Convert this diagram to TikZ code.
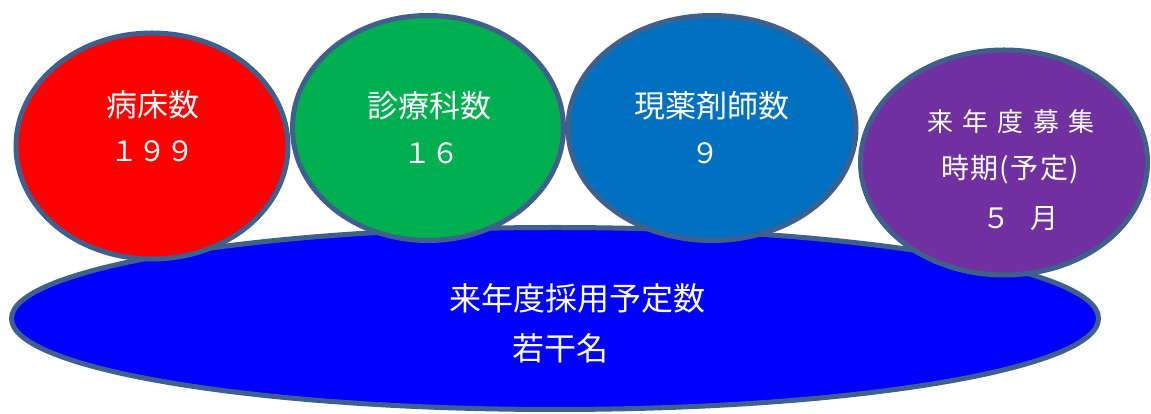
\documentclass[tikz,border=0pt]{standalone}
\usepackage{fontspec}
\newfontfamily\jpfont{Noto Sans CJK JP}
\definecolor{rim}{RGB}{63,95,140}
\definecolor{hireblue}{RGB}{0,0,255}
\definecolor{bedred}{RGB}{255,0,0}
\definecolor{deptgreen}{RGB}{0,176,80}
\definecolor{pharmblue}{RGB}{0,112,192}
\definecolor{recpurple}{RGB}{112,48,160}
\usepackage{tikz}
\usetikzlibrary{shapes.geometric}

\begin{document}
\begin{tikzpicture}[x=1pt,y=1pt]
      \newcommand{\jpsize}[1]{\jpfont\fontsize{#1}{#1}\selectfont}
      \tikzstyle{blob} = [ellipse,draw=rim,line width=5pt,inner sep=0pt]
      \tikzstyle{word} = [text=white,inner sep=0pt,font=\jpsize{31}]
      \tikzstyle{digit} = [word,font=\jpsize{28}]
      \tikzstyle{spaced} = [word,font=\jpsize{26}\addfontfeature{LetterSpace=35}]
      \useasboundingbox (0,0) rectangle (1151,414);
      \node[blob,fill=hireblue,minimum width=1087pt,minimum height=182pt] (hire) at (555,95.5) {};
      \node[blob,fill=bedred,minimum width=272pt,minimum height=226pt] (beds) at (152,268) {};
      \node[blob,fill=deptgreen,minimum width=271pt,minimum height=225pt] (depts) at (428,286) {};
      \node[blob,fill=pharmblue,minimum width=288pt,minimum height=225pt] (pharm) at (712,286) {};
      \node[blob,fill=recpurple,minimum width=287pt,minimum height=225pt] (recruit) at (1004,251.5) {};
      \node[word] (bedsname) at (153,309) {病床数};
      \node[digit] (bedsnum) at (152,263) {１９９};
      \node[word] (deptsname) at (429,308) {診療科数};
      \node[digit] (deptsnum) at (431,261) {１６};
      \node[word] (pharmname) at (712,308) {現薬剤師数};
      \node[digit] (pharmnum) at (705,261) {９};
      \node[spaced] (recruitname) at (1011,292) {来年度募集};
      \node[word,font=\jpsize{28}\addfontfeature{LetterSpace=5}] (recruittime) at (1010,245) {時期(予定)};
      \node[spaced,font=\jpsize{28}] (recruitmonth) at (1020,195) {５\hspace{20pt}月};
      \node[word,font=\jpsize{32}] (hirename) at (577,116) {来年度採用予定数};
      \node[word,font=\jpsize{32}] (hirenum) at (560,66) {若干名};
    \end{tikzpicture}
\end{document}
